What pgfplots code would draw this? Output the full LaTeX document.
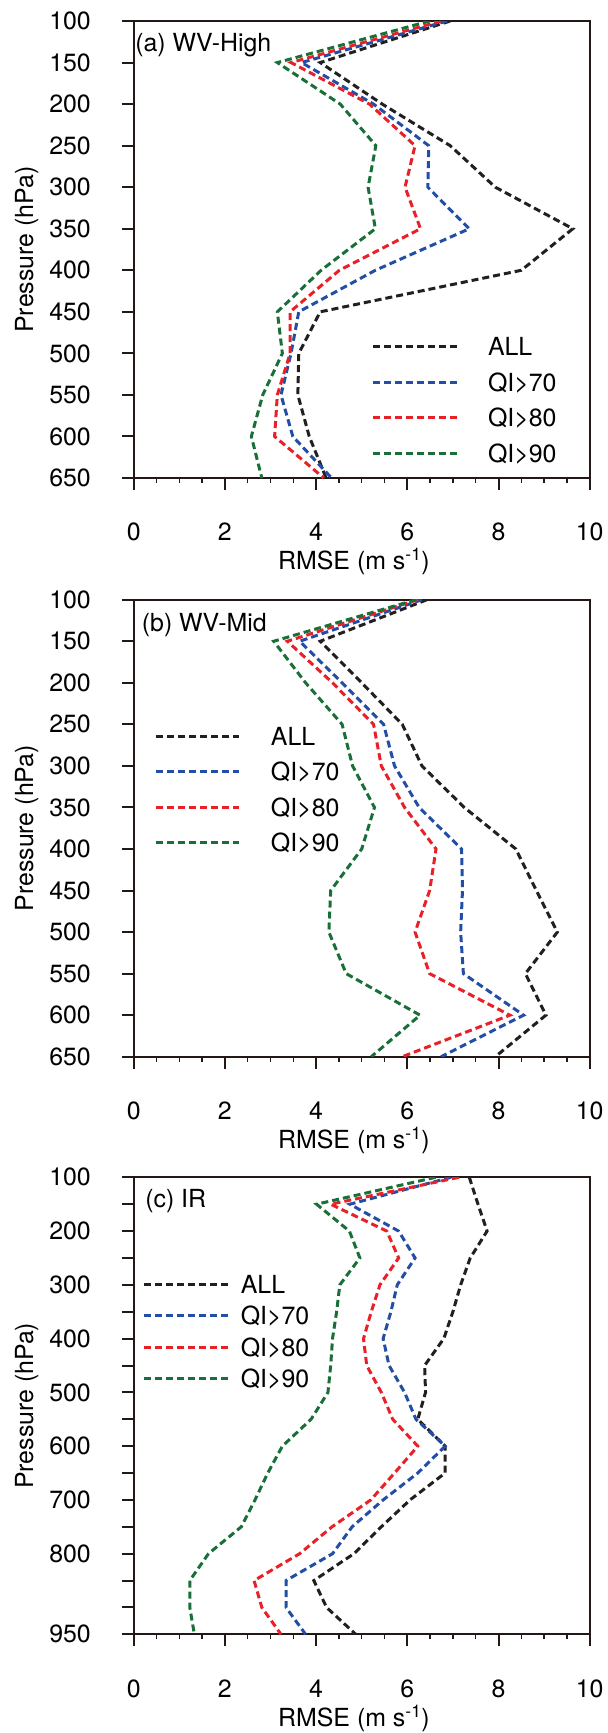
\documentclass[border=0pt]{standalone}
\usepackage{fontspec}
\setmainfont{TeX Gyre Heros}
\usepackage{pgfplots}
\usepackage{pgfplotstable}
\pgfplotsset{compat=1.18}
\definecolor{cblack}{RGB}{35,31,32}
\definecolor{cblue}{RGB}{35,78,165}
\definecolor{cred}{RGB}{232,32,40}
\definecolor{cgreen}{RGB}{24,112,56}
\definecolor{frame}{RGB}{35,24,21}
\newcommand{\fs}{\fontsize{25}{30}\selectfont}

\pgfplotstableread{
p all q70 q80 q90
100 6.94 6.87 6.74 6.49
150 4.09 3.68 3.45 3.15
200 5.45 5.26 5.17 4.53
250 6.94 6.47 6.17 5.31
300 7.93 6.45 5.95 5.14
350 9.63 7.36 6.29 5.30
400 8.50 5.30 4.51 4.11
450 4.09 3.62 3.43 3.15
500 3.62 3.45 3.43 3.26
550 3.60 3.23 3.15 2.83
600 3.85 3.49 3.09 2.58
650 4.22 4.34 4.17 2.81
}\tabA

\pgfplotstableread{
p all q70 q80 q90
100 6.43 6.32 6.23 6.19
150 4.09 3.64 3.37 3.07
200 5.00 4.57 4.36 3.77
250 5.89 5.48 5.26 4.57
300 6.32 5.72 5.43 4.80
350 7.25 6.26 5.94 5.28
400 8.38 7.19 6.63 5.00
450 8.83 7.21 6.49 4.32
500 9.29 7.17 6.17 4.28
550 8.59 7.23 6.49 4.66
600 9.04 8.55 8.25 6.28
650 7.93 6.74 5.89 5.21
}\tabB

\pgfplotstableread{
p all q70 q80 q90
100 7.36 6.96 7.13 6.62
150 7.55 4.74 4.32 4.01
200 7.75 5.81 5.55 4.73
250 7.38 6.17 5.81 4.96
300 7.17 5.78 5.40 4.52
350 7.00 5.64 5.21 4.45
400 6.80 5.47 5.04 4.36
450 6.38 5.60 5.11 4.32
500 6.40 5.94 5.43 4.26
550 6.23 6.19 5.68 3.89
600 6.83 6.83 6.23 3.26
650 6.83 6.23 5.72 2.94
700 6.06 5.47 5.20 2.66
750 5.43 4.79 4.35 2.36
800 4.83 4.36 3.64 1.64
850 3.95 3.34 2.64 1.23
900 4.23 3.34 2.81 1.23
950 4.87 3.77 3.23 1.33
}\tabC

\pgfplotsset{
  rmse/.style={
    scale only axis, width=456bp, height=457bp,
    xmin=0, xmax=10, xtick={0,2,...,10}, minor x tick num=3,
    y dir=reverse,
    axis line style={line width=2bp, draw=frame},
    every tick/.style={line width=2bp, draw=frame},
    every minor tick/.style={line width=1.5bp, draw=frame},
    major tick length=12bp, minor tick length=5bp,
    tick align=outside, xtick pos=bottom, ytick pos=left,
    /pgf/number format/assume math mode=true,
    tick label style={font=\fs, text=black},
    xticklabel style={anchor=north, inner sep=0pt, yshift=-33bp},
    yticklabel style={anchor=east, inner sep=0pt, xshift=-30.7bp},
    xlabel={RMSE (m s\textsuperscript{-1})},
    ylabel={Pressure (hPa)},
    every axis x label/.style={at={(axis description cs:0.483,-0.2007)}, anchor=base, font=\fs},
    every axis y label/.style={at={(axis description cs:-0.2208,0.5)}, rotate=90, anchor=base, font=\fs},
    legend style={draw=none, fill=none, inner sep=0pt, font=\fs, anchor=north west,
      nodes={inner sep=0pt, text height=18bp, text depth=0pt}},
    legend cell align=left,
    legend image code/.code={\draw[##1] (0bp,0bp) -- (83.4bp,0bp);},
    every axis plot/.append style={line width=3bp, dash pattern=on 7bp off 4bp},
  }
}

\begin{document}
\begin{tikzpicture}
\useasboundingbox (0,0) rectangle (608bp,-1733bp);

% (a)
\begin{axis}[rmse, at={(133.7bp,-478bp)}, anchor=south west,
  ymin=100, ymax=650, ytick={100,150,...,650},
  legend style={at={(axis description cs:0.5213,0.3073)}, row sep=17.5bp,
    /tikz/every odd column/.append style={column sep=30bp}}]
\addplot[cblack] table[x=all,y=p]{\tabA};
\addplot[cblue]  table[x=q70,y=p]{\tabA};
\addplot[cred]   table[x=q80,y=p]{\tabA};
\addplot[cgreen] table[x=q90,y=p]{\tabA};
\legend{ALL,QI>70,QI>80,QI>90}
\node[anchor=base west, inner sep=0pt, font=\fs] at (axis description cs:0.003,0.9337) {(a) WV-High};
\end{axis}

% (b)
\begin{axis}[rmse, at={(133.7bp,-1056.7bp)}, anchor=south west,
  ymin=100, ymax=650, ytick={100,150,...,650},
  legend style={at={(axis description cs:0.0452,0.7213)}, row sep=17.5bp,
    /tikz/every odd column/.append style={column sep=30bp}}]
\addplot[cblack] table[x=all,y=p]{\tabB};
\addplot[cblue]  table[x=q70,y=p]{\tabB};
\addplot[cred]   table[x=q80,y=p]{\tabB};
\addplot[cgreen] table[x=q90,y=p]{\tabB};
\legend{ALL,QI>70,QI>80,QI>90}
\node[anchor=base west, inner sep=0pt, font=\fs] at (axis description cs:0.0175,0.9306) {(b) WV-Mid};
\end{axis}

% (c)
\begin{axis}[rmse, at={(133.7bp,-1634.3bp)}, anchor=south west,
  ymin=100, ymax=950, ytick={100,150,...,950},
  yticklabels={100,,200,,300,,400,,500,,600,,700,,800,,,950},
  legend style={at={(axis description cs:0.0195,0.7857)}, row sep=13.3bp,
    /tikz/every odd column/.append style={column sep=11.6bp}}]
\addplot[cblack] table[x=all,y=p]{\tabC};
\addplot[cblue]  table[x=q70,y=p]{\tabC};
\addplot[cred]   table[x=q80,y=p]{\tabC};
\addplot[cgreen] table[x=q90,y=p]{\tabC};
\legend{ALL,QI>70,QI>80,QI>90}
\node[anchor=base west, inner sep=0pt, font=\fs] at (axis description cs:0.025,0.9346) {(c) IR};
\end{axis}
\end{tikzpicture}
\end{document}
